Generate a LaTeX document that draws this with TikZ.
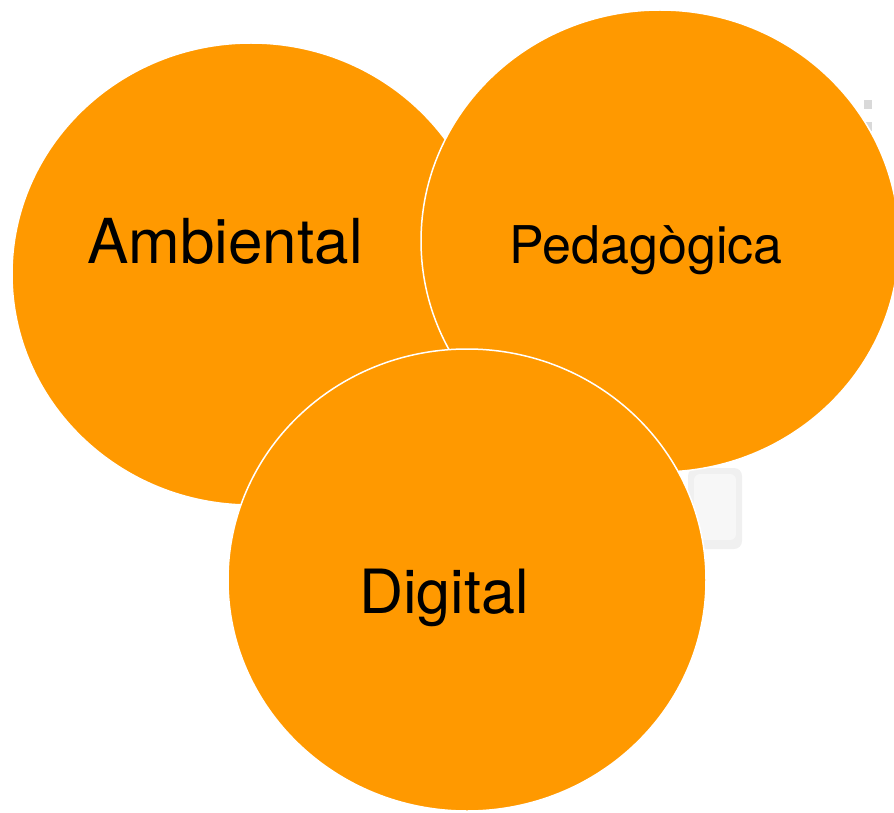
\documentclass[tikz,border=0pt]{standalone}
\usepackage{fontspec}
\setmainfont{TeX Gyre Heros}
\usepackage{xcolor}
\usepackage{tikz}
\usetikzlibrary{shapes.geometric}
\definecolor{bubbleorange}{RGB}{255,153,0}

\begin{document}
\begin{tikzpicture}[x=1pt,y=-1pt,
    bubble/.style={ellipse, fill=bubbleorange, draw=white, line width=1.5pt,
      minimum width=478pt, minimum height=462pt, inner sep=0pt},
    bubbletext/.style={anchor=base, inner sep=0pt, text=black}]
    \useasboundingbox (0,0) rectangle (894,813);

    % faint picture behind
    \fill[black!6, rounded corners=8pt] (688,468) rectangle (742,549);
    \fill[black!3, rounded corners=6pt] (694,474) rectangle (736,540);
    \foreach \yy in {100,122,140,158} {
      \fill[black!15] (864,\yy) rectangle (872,\yy+9);
    }

    % Circles
    \node[bubble] (amb) at (251,274) {};
    \node[bubble] (ped) at (660,241) {};
    \node[bubble] (dig) at (467,580) {};

    % Labels
    \node[bubbletext, font=\fontsize{62}{62}\selectfont] (ambtxt) at (225,263) {Ambiental};
    \node[bubbletext, font=\fontsize{52}{52}\selectfont] (pedtxt) at (646,263) {Pedagògica};
    \node[bubbletext, font=\fontsize{61}{61}\selectfont] (digtxt) at (444,613) {Digital};
\end{tikzpicture}
\end{document}
